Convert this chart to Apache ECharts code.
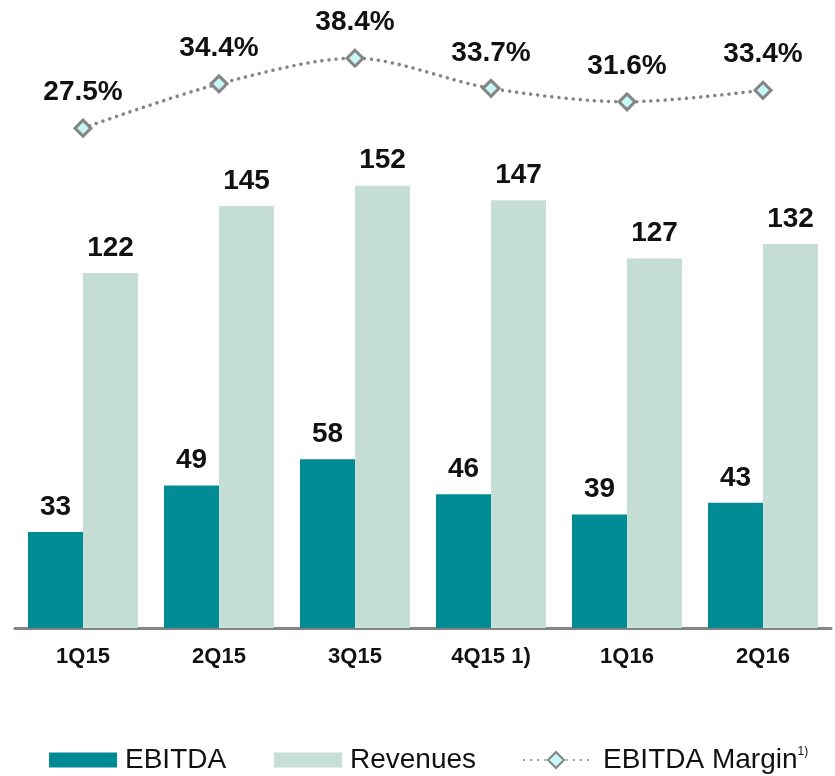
<!DOCTYPE html>
<html>
<head>
<meta charset="utf-8">
<script src="https://cdn.jsdelivr.net/npm/echarts@6/dist/echarts.min.js"></script>
<style>
  html, body { margin: 0; padding: 0; background: #fff; }
  #main { width: 835px; height: 776px; }
</style>
</head>
<body>
<div id="main"></div>
<script>
// quarterly figures
const categories = ['1Q15', '2Q15', '3Q15', '4Q15 1)', '1Q16', '2Q16'];
const ebitda = [33, 49, 58, 46, 39, 43];
const revenues = [122, 145, 152, 147, 127, 132];
const margin = [27.5, 34.4, 38.4, 33.7, 31.6, 33.4];

const teal = '#008B95';
const mint = '#C5DFD6';
const grey = '#858585';
const font = 'Liberation Sans, Arial, sans-serif';

const barLabel = {
    show: true,
    position: 'top',
    distance: 11,
    color: '#111',
    fontSize: 28,
    fontWeight: 'bold',
    fontFamily: font
};

const legendText = { color: '#111', fontSize: 28, fontFamily: font, padding: [0, 0, 0, 3] };

const chart = echarts.init(document.getElementById('main'));
chart.setOption({
    animation: false,
    grid: { left: 15, right: 4, top: 46, bottom: 148 },
    legend: [
        { data: ['EBITDA'], icon: 'rect', left: 44, top: 741, itemWidth: 68, itemHeight: 15, textStyle: legendText },
        { data: ['Revenues'], icon: 'rect', left: 269, top: 741, itemWidth: 68, itemHeight: 15, textStyle: legendText },
        {
            data: ['EBITDA Margin'], left: 518, top: 741, itemWidth: 64, itemHeight: 20,
            textStyle: Object.assign({}, legendText, {
                padding: [0, 0, 0, 10],
                rich: { s: { fontSize: 12, fontFamily: font, color: '#111', verticalAlign: 'top', padding: [0, 0, 12, 0] } }
            }),
            formatter: name => name + '{s|1)}'
        }
    ],
    xAxis: {
        type: 'category',
        data: categories,
        axisTick: { show: false },
        axisLine: { lineStyle: { color: grey, width: 3 } },
        axisLabel: { color: '#111', fontSize: 22, fontWeight: 'bold', fontFamily: font, margin: 18 }
    },
    yAxis: [
        { type: 'value', min: 0, max: 200, show: false, splitLine: { show: false } },
        { type: 'value', min: -50.4, max: 40.3, show: false, splitLine: { show: false } }
    ],
    series: [
        {
            name: 'EBITDA', type: 'bar', data: ebitda,
            barWidth: 55, barGap: '0%',
            itemStyle: { color: teal },
            label: barLabel
        },
        {
            name: 'Revenues', type: 'bar', data: revenues,
            barWidth: 55,
            itemStyle: { color: mint },
            label: barLabel
        },
        {
            name: 'EBITDA Margin', type: 'line', data: margin,
            yAxisIndex: 1, smooth: 0.3,
            symbol: 'diamond', symbolSize: 16,
            lineStyle: { color: grey, width: 3.5, type: [0.1, 7], cap: 'round' },
            itemStyle: { color: '#C8F7F7', borderColor: grey, borderWidth: 3 },
            label: Object.assign({}, barLabel, { distance: 12, formatter: '{c}%' })
        }
    ]
});
</script>
</body>
</html>
